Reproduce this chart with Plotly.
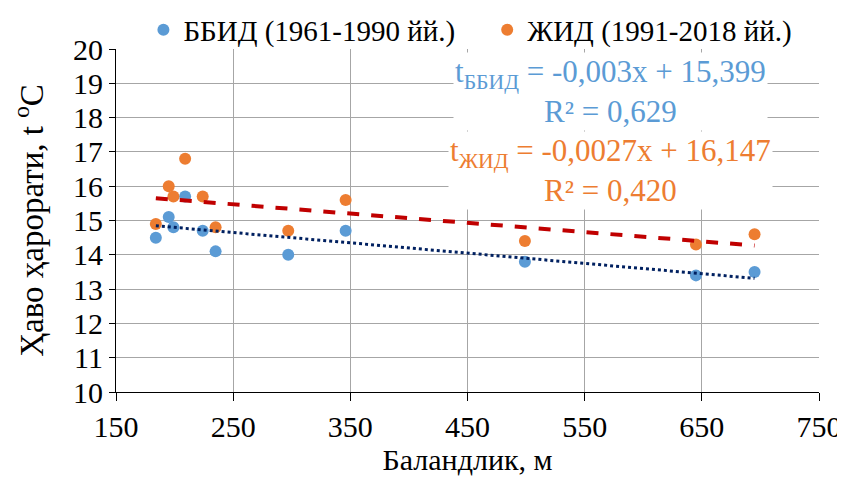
import plotly.graph_objects as go

# balandlik (m) va havo harorati (C)
altitude = [184, 195, 199, 209, 224, 235, 297, 346, 499, 645, 695]
temp_bbid = [14.5, 15.1, 14.8, 15.7, 14.7, 14.1, 14.0, 14.7, 13.8, 13.4, 13.5]
temp_jid = [14.9, 16.0, 15.7, 16.8, 15.7, 14.8, 14.7, 15.6, 14.4, 14.3, 14.6]

# trend coefficients (from the chart)
slope_bbid, icpt_bbid, r2_bbid = -0.003, 15.399, 0.629
slope_jid, icpt_jid, r2_jid = -0.0027, 16.147, 0.420

x_ticks = [150, 250, 350, 450, 550, 650, 750]

blue = "#5B9BD5"
orange = "#ED7D31"
font = "Times New Roman, Liberation Serif, serif"

xs = [min(altitude), max(altitude)]

fig = go.Figure()
fig.add_trace(go.Scatter(x=altitude, y=temp_bbid, mode="markers", name="ББИД (1961-1990 йй.)",
                         marker=dict(color=blue, size=12), legend="legend"))
fig.add_trace(go.Scatter(x=altitude, y=temp_jid, mode="markers", name="ЖИД (1991-2018 йй.)",
                         marker=dict(color=orange, size=12), legend="legend2"))
fig.add_trace(go.Scatter(x=xs, y=[slope_bbid * v + icpt_bbid for v in xs], mode="lines",
                         line=dict(color="#002060", width=3, dash="dot"), showlegend=False))
fig.add_trace(go.Scatter(x=xs, y=[slope_jid * v + icpt_jid for v in xs], mode="lines",
                         line=dict(color="#C00000", width=4, dash="dash"), showlegend=False))

fig.add_annotation(x=0.703, y=0.875, xref="paper", yref="paper", xanchor="center", yanchor="middle",
                   showarrow=False,
                   text="t<sub>ББИД</sub> = -0,003x + 15,399<br>R² = 0,629",
                   font=dict(family=font, size=31, color=blue), bgcolor="white", align="center")
fig.add_annotation(x=0.703, y=0.645, xref="paper", yref="paper", xanchor="center", yanchor="middle",
                   showarrow=False,
                   text="t<sub>ЖИД</sub> = -0,0027x + 16,147<br>R² = 0,420",
                   font=dict(family=font, size=31, color=orange), bgcolor="white", align="center")

tick_font = dict(family=font, size=30, color="black")
legend_style = dict(orientation="h", xanchor="left", y=1.056, yanchor="middle",
                    font=dict(family=font, size=29), itemwidth=30, bgcolor="rgba(0,0,0,0)")

fig.update_layout(
    width=837, height=471,
    margin=dict(l=108, r=26, t=41, b=87, autoexpand=False),
    plot_bgcolor="white", paper_bgcolor="white",
    font=dict(family=font, size=26, color="black"),
    legend=dict(x=0.039, **legend_style),
    legend2=dict(x=0.528, **legend_style),
    xaxis=dict(range=[150, 750], tickvals=x_ticks, showgrid=True, gridcolor="#A6A6A6",
               showline=True, linecolor="black", ticks="outside", ticklen=8, tickcolor="black",
               zeroline=False, tickfont=tick_font,
               title=dict(text="Баландлик, м", standoff=2, font=dict(family=font, size=30))),
    yaxis=dict(range=[10, 20], dtick=1, showgrid=True, gridcolor="#A6A6A6",
               showline=True, linecolor="black", ticks="outside", ticklen=6, tickcolor="black",
               zeroline=False, tickfont=tick_font,
               title=dict(text="Ҳаво ҳарорати, t <sup>o</sup>C", standoff=24,
                          font=dict(family=font, size=33))),
)

fig.write_html("out.html")
